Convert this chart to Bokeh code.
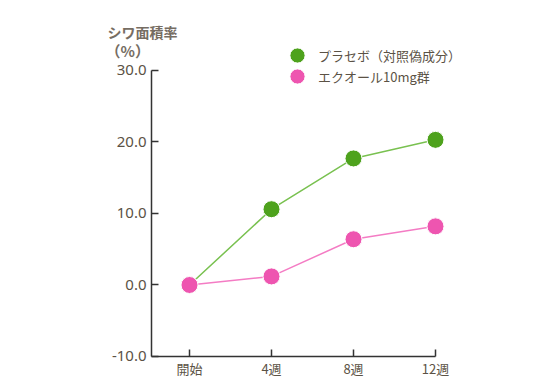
from bokeh.plotting import figure
from bokeh.models import Range1d, FixedTicker, Label, Legend, LegendItem
from bokeh.embed import file_html
from bokeh.resources import INLINE

categories = ["開始", "4週", "8週", "12週"]
placebo = [0.0, 10.6, 17.7, 20.3]
equol = [0.0, 1.2, 6.4, 8.2]
y_ticks = [-10, 0, 10, 20, 30]
y_title = "シワ面積率"
y_unit = "（%）"
name_placebo = "プラセボ（対照偽成分）"
name_equol = "エクオール10mg群"

FONT = "Noto Sans CJK JP"
NUMFONT = "Noto Sans"
TXT = "#5b5245"
TITLE_C = "#766d63"
GREEN = "#4ea21d"
GREEN_LINE = "#79c150"
PINK = "#ee55b0"
PINK_LINE = "#f47cc4"

xs = list(range(len(categories)))
X0 = -0.4634
Y0 = -10

p = figure(width=526, height=378, output_backend="svg", toolbar_location=None,
           x_range=Range1d(-1.0854, 4.0366), y_range=Range1d(-13.077, 38.39),
           min_border_left=100, min_border_right=6, min_border_top=10, min_border_bottom=0)
p.outline_line_color = None
p.grid.visible = False
p.background_fill_color = "white"
p.border_fill_color = "white"

for ax in (p.xaxis[0], p.yaxis[0]):
    ax.axis_line_color = "#333333"
    ax.axis_line_width = 1.5
    ax.major_tick_line_color = "#333333"
    ax.major_tick_line_width = 1.5
    ax.major_tick_in = 7
    ax.major_tick_out = 0
    ax.minor_tick_line_color = None
    ax.major_label_text_color = TXT

p.xaxis.fixed_location = Y0
p.xaxis.bounds = (X0, 3.0)
p.xaxis.ticker = FixedTicker(ticks=xs)
p.xaxis.major_label_overrides = {i: c for i, c in enumerate(categories)}
p.xaxis.major_label_standoff = 3
p.xaxis.major_label_text_font = FONT
p.xaxis.major_label_text_font_size = "13px"
p.yaxis.fixed_location = X0
p.yaxis.bounds = (Y0, 30)
p.yaxis.ticker = FixedTicker(ticks=y_ticks)
p.yaxis.major_label_overrides = {v: f"{v:.1f}" for v in y_ticks}
p.yaxis.major_label_standoff = 5
p.yaxis.major_label_text_font = NUMFONT
p.yaxis.major_label_text_font_size = "15px"

p.line(xs, placebo, line_color=GREEN_LINE, line_width=1.5)
r_g = p.scatter(xs, placebo, size=17, fill_color=GREEN, line_color="white", line_width=1)
p.line(xs, equol, line_color=PINK_LINE, line_width=1.5)
r_p = p.scatter(xs, equol, size=17, fill_color=PINK, line_color="white", line_width=1)

p.add_layout(Label(x=7, y=347, x_units="screen", y_units="screen", text=y_title,
                   text_font=FONT, text_font_size="14px", text_color=TITLE_C,
                   text_baseline="middle", text_font_style="bold"))
p.add_layout(Label(x=5, y=328, x_units="screen", y_units="screen", text=y_unit,
                   text_font=FONT, text_font_size="15px", text_color=TITLE_C,
                   text_baseline="middle", text_font_style="bold"))

common = dict(label_text_font=FONT, label_text_font_size="13px", label_text_color=TXT,
              glyph_width=38, glyph_height=38, padding=0, margin=0,
              border_line_color=None, background_fill_alpha=0, label_standoff=2)
p.add_layout(Legend(items=[LegendItem(label=name_placebo, renderers=[r_g])],
                    location=(178, 304), **common), "center")
p.add_layout(Legend(items=[LegendItem(label=name_equol, renderers=[r_p])],
                    location=(178, 283), **common), "center")

open("out.html", "w").write(file_html(p, INLINE))
